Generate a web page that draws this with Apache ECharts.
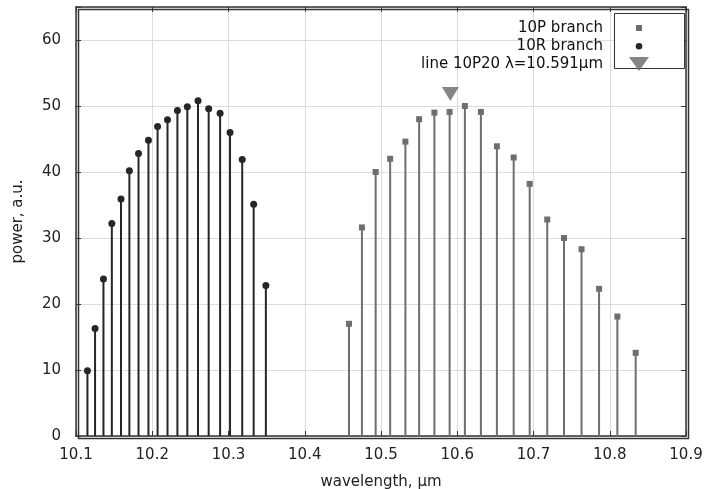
<!DOCTYPE html>
<html>
<head>
<meta charset="utf-8">
<script src="https://cdn.jsdelivr.net/npm/echarts@6/dist/echarts.min.js"></script>
<style>html,body{margin:0;padding:0;background:#fff}#c{width:706px;height:489px}</style>
</head>
<body>
<div id="c"></div>
<script>
// 10R branch
const rWavelength = [10.115, 10.125, 10.136, 10.147, 10.159, 10.170, 10.182, 10.195, 10.207, 10.220, 10.233, 10.246, 10.260, 10.274, 10.289, 10.302, 10.318, 10.333, 10.349];
const rPower = [9.9, 16.3, 23.8, 32.2, 35.9, 40.2, 42.8, 44.8, 46.9, 47.9, 49.3, 49.9, 50.8, 49.6, 48.9, 46.0, 41.9, 35.1, 22.8];
// 10P branch
const pWavelength = [10.458, 10.475, 10.493, 10.512, 10.532, 10.550, 10.570, 10.590, 10.610, 10.631, 10.652, 10.674, 10.695, 10.718, 10.740, 10.763, 10.786, 10.810, 10.834];
const pPower = [17.0, 31.6, 40.0, 42.0, 44.6, 48.0, 49.0, 49.1, 50.0, 49.1, 43.9, 42.2, 38.2, 32.8, 30.0, 28.3, 22.3, 18.1, 12.6];
// marked line 10P20
const markWavelength = [10.591];
const markPower = [51.8];
// axis ticks
const xTicks = [10.1, 10.2, 10.3, 10.4, 10.5, 10.6, 10.7, 10.8, 10.9];
const yTicks = [0, 10, 20, 30, 40, 50, 60];

const names = ['10P branch', '10R branch', 'line 10P20 λ=10.591μm'];
const pColor = '#6e6e6e', rColor = '#262626', mColor = '#666666';
const font = 'DejaVu Sans';

function stemRender(kind, color, size) {
  return function (params, api) {
    const x = api.value(0), y = api.value(1);
    const top = api.coord([x, y]);
    const base = api.coord([x, 0]);
    const marker = kind === 'circle'
      ? { type: 'circle', shape: { cx: top[0], cy: top[1], r: size / 2 }, style: { fill: color } }
      : { type: 'rect', shape: { x: top[0] - size / 2, y: top[1] - size / 2, width: size, height: size }, style: { fill: color } };
    return {
      type: 'group',
      children: [
        { type: 'line', shape: { x1: base[0], y1: base[1], x2: top[0], y2: top[1] }, style: { stroke: color, lineWidth: 2 } },
        marker
      ]
    };
  };
}

const chart = echarts.init(document.getElementById('c'), null, { renderer: 'canvas' });
const axisCommon = {
  axisLine: { show: true, onZero: false, lineStyle: { color: '#333', width: 1.5 } },
  axisTick: { show: true, inside: true, length: 5, lineStyle: { color: '#333' } },
};
chart.setOption({
  animation: false,
  backgroundColor: '#fff',
  textStyle: { fontFamily: font },
  grid: { left: 76, right: 20, top: 7, bottom: 53, show: false, containLabel: false, outerBoundsMode: 'none' },
  xAxis: [
    Object.assign({
      type: 'value', min: xTicks[0], max: xTicks[xTicks.length - 1], interval: 0.1,
      name: 'wavelength, μm', nameLocation: 'middle', nameGap: 39,
      nameTextStyle: { fontSize: 15, color: '#222', fontFamily: font },
      axisLabel: { fontSize: 15, color: '#222', margin: 12, fontFamily: font, formatter: v => v.toFixed(1) },
      splitLine: { show: true, lineStyle: { color: '#dcdcdc', width: 1 } }
    }, axisCommon),
    Object.assign({
      type: 'value', position: 'top', min: xTicks[0], max: xTicks[xTicks.length - 1], interval: 0.1,
      axisLabel: { show: false }, splitLine: { show: false }
    }, axisCommon)
  ],
  yAxis: [
    Object.assign({
      type: 'value', min: 0, max: 65, interval: 10,
      name: 'power, a.u.', nameLocation: 'middle', nameGap: 50,
      nameTextStyle: { fontSize: 15, color: '#222', fontFamily: font },
      axisLabel: { fontSize: 15, color: '#222', margin: 15, fontFamily: font,
        formatter: v => (yTicks.indexOf(v) >= 0 ? String(v) : '') },
      splitLine: { show: true, lineStyle: { color: '#dcdcdc', width: 1 } }
    }, axisCommon),
    Object.assign({
      type: 'value', position: 'right', min: 0, max: 65, interval: 10,
      axisLabel: { show: false }, splitLine: { show: false }
    }, axisCommon)
  ],
  legend: {
    orient: 'vertical', align: 'right', right: 706 - 613 - 42, top: 15,
    itemWidth: 42, itemHeight: 16, itemGap: 2,
    textStyle: { fontSize: 15, color: '#111', fontFamily: font },
    data: [
      { name: names[0], icon: 'path://M0 0M42 16M28 5h6v6h-6z', itemStyle: { color: pColor, borderWidth: 0 } },
      { name: names[1], icon: 'path://M0 0M42 16M31 5a3.3 3.3 0 1 0 0.01 0z', itemStyle: { color: rColor, borderWidth: 0 } },
      { name: names[2], icon: 'path://M0 0M42 16M21 1L41 1L31 15z', itemStyle: { color: mColor, borderWidth: 0 } }
    ]
  },
  graphic: [{
    type: 'rect', z: 1, left: 614, top: 13,
    shape: { width: 70, height: 55 },
    style: { fill: '#fff', stroke: '#333', lineWidth: 1 }
  }, {
    type: 'rect', z: 0, left: 76, top: 7, silent: true,
    shape: { width: 610, height: 429 },
    style: { fill: 'none', stroke: '#333', lineWidth: 1.5 }
  }],
  series: [
    {
      name: names[0], type: 'custom', xAxisIndex: 0, yAxisIndex: 0,
      itemStyle: { color: pColor },
      encode: { x: 0, y: 1 },
      renderItem: stemRender('rect', pColor, 6),
      data: pWavelength.map((w, i) => [w, pPower[i]])
    },
    {
      name: names[1], type: 'custom', xAxisIndex: 0, yAxisIndex: 0,
      itemStyle: { color: rColor },
      encode: { x: 0, y: 1 },
      renderItem: stemRender('circle', rColor, 7),
      data: rWavelength.map((w, i) => [w, rPower[i]])
    },
    {
      name: names[2], type: 'scatter', xAxisIndex: 0, yAxisIndex: 0,
      symbol: 'triangle', symbolRotate: 180, symbolSize: [17, 14],
      itemStyle: { color: mColor },
      data: markWavelength.map((w, i) => [w, markPower[i]])
    }
  ]
});
</script>
</body>
</html>
